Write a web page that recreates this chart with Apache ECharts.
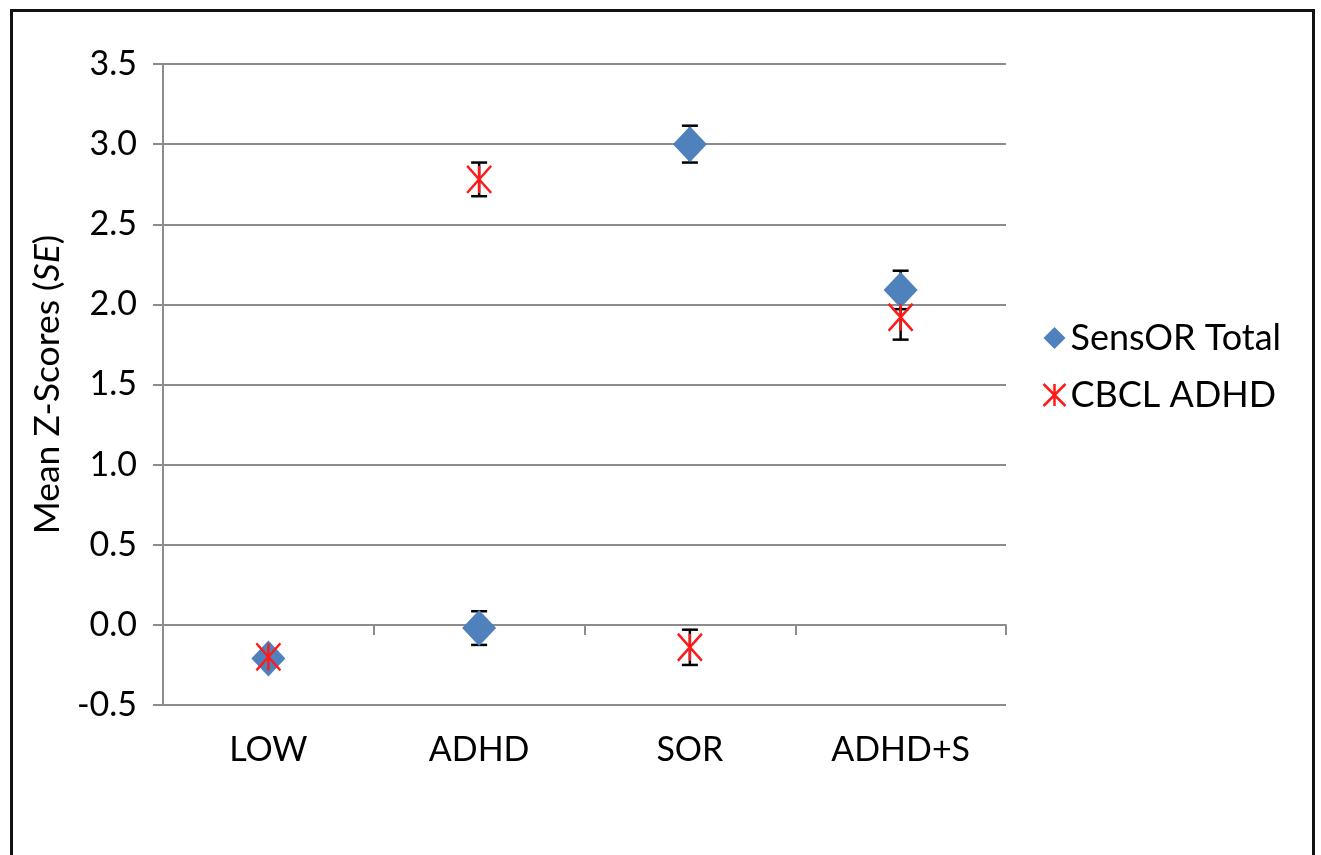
<!DOCTYPE html>
<html>
<head>
<meta charset="utf-8">
<script src="https://cdn.jsdelivr.net/npm/echarts@6/dist/echarts.min.js"></script>
<style>
html,body{margin:0;padding:0;background:#fff;}
#chart{width:1321px;height:855px;}
</style>
</head>
<body>
<div id="chart"></div>
<script>
var categories = ['LOW', 'ADHD', 'SOR', 'ADHD+S'];
var sensorMean = [-0.21, -0.02, 3.00, 2.09];
var sensorSE = [0.04, 0.105, 0.115, 0.12];
var cbclMean = [-0.20, 2.78, -0.14, 1.92];
var cbclSE = [0.035, 0.105, 0.11, 0.14];
var yTicks = [-0.5, 0.0, 0.5, 1.0, 1.5, 2.0, 2.5, 3.0, 3.5];

var FONT = 'Lato';
var STAR = 'path://M0,0L10,10M10,0L0,10M5,0L5,10';

function errData(means, ses) {
  return means.map(function (m, i) { return [i, m - ses[i], m + ses[i]]; });
}
function errRender(params, api) {
  var x = api.value(0);
  var lo = api.coord([x, api.value(1)]);
  var hi = api.coord([x, api.value(2)]);
  var hw = 8;
  var st = { stroke: '#000', lineWidth: 2.5 };
  return {
    type: 'group',
    children: [
      { type: 'line', shape: { x1: lo[0], y1: lo[1], x2: hi[0], y2: hi[1] }, style: st },
      { type: 'line', shape: { x1: lo[0] - hw, y1: lo[1], x2: lo[0] + hw, y2: lo[1] }, style: st },
      { type: 'line', shape: { x1: hi[0] - hw, y1: hi[1], x2: hi[0] + hw, y2: hi[1] }, style: st }
    ]
  };
}

var chart = echarts.init(document.getElementById('chart'));
chart.setOption({
  animation: false,
  backgroundColor: '#fff',
  textStyle: { fontFamily: FONT },
  graphic: [{
    type: 'rect', left: 9, top: 8,
    shape: { width: 1302, height: 900 },
    style: { fill: 'none', stroke: '#111', lineWidth: 3 },
    z: 100
  }],
  grid: { left: 163, top: 64, right: 315, bottom: 150, containLabel: false },
  legend: {
    orient: 'vertical', left: 1036, top: 315, itemGap: 21,
    itemWidth: 22, itemHeight: 22,
    textStyle: { fontFamily: FONT, fontSize: 36, color: '#000' },
    data: [
      { name: 'SensOR Total', icon: 'diamond', itemStyle: { color: '#4F81BD' } },
      { name: 'CBCL ADHD', icon: STAR, itemStyle: { color: 'none', borderColor: '#FF1A1A', borderWidth: 2.5 } }
    ]
  },
  xAxis: [{
    type: 'category', data: categories, boundaryGap: true,
    position: 'bottom',
    axisLine: { show: false, onZero: false }, axisTick: { show: false },
    axisLabel: { fontFamily: FONT, fontSize: 34, color: '#000', margin: 28 },
    splitLine: { show: false }
  }, {
    type: 'category', data: categories, boundaryGap: true,
    position: 'bottom',
    axisLine: { show: true, onZero: true, onZeroAxisIndex: 0, lineStyle: { color: '#8c8c8c', width: 2 } },
    axisTick: { show: true, length: 10, lineStyle: { color: '#8c8c8c', width: 2 } },
    axisLabel: { show: false },
    splitLine: { show: false }
  }],
  yAxis: {
    type: 'value', min: -0.5, max: 3.5, interval: 0.5,
    name: '{n|Mean Z-Scores (}{i|SE}{n|)}',
    nameLocation: 'middle', nameGap: 96, nameRotate: 90,
    nameTextStyle: {
      rich: {
        n: { fontFamily: FONT, fontSize: 35.5, color: '#000' },
        i: { fontFamily: FONT, fontSize: 35.5, color: '#000', fontStyle: 'italic' }
      }
    },
    axisLine: { show: true, lineStyle: { color: '#8c8c8c', width: 2 } },
    axisTick: { show: true, length: 10, lineStyle: { color: '#8c8c8c', width: 2 } },
    axisLabel: {
      fontFamily: FONT, fontSize: 34, color: '#000', margin: 26,
      formatter: function (v) {
        var t = yTicks.filter(function (k) { return Math.abs(k - v) < 1e-9; })[0];
        return (t !== undefined ? t : v).toFixed(1);
      }
    },
    splitLine: { show: true, lineStyle: { color: '#8c8c8c', width: 2 } }
  },
  series: [
    {
      name: 'SensOR Total', type: 'custom', xAxisIndex: 0,
      data: errData(sensorMean, sensorSE),
      renderItem: errRender, encode: { x: 0, y: [1, 2] }, z: 2, silent: true
    },
    {
      name: 'CBCL ADHD', type: 'custom', xAxisIndex: 0,
      data: errData(cbclMean, cbclSE),
      renderItem: errRender, encode: { x: 0, y: [1, 2] }, z: 2, silent: true
    },
    {
      name: 'SensOR Total', type: 'scatter', xAxisIndex: 0,
      data: sensorMean.map(function (v, i) { return [i, v]; }),
      symbol: 'diamond', symbolSize: [34, 36],
      itemStyle: { color: '#4F81BD', opacity: 1 }, z: 3
    },
    {
      name: 'CBCL ADHD', type: 'scatter', xAxisIndex: 0,
      data: cbclMean.map(function (v, i) { return [i, v]; }),
      symbol: STAR, symbolSize: [24, 27],
      itemStyle: { color: 'none', borderColor: '#FF1A1A', borderWidth: 2.5, opacity: 1 }, z: 5
    }
  ]
});
</script>
</body>
</html>
